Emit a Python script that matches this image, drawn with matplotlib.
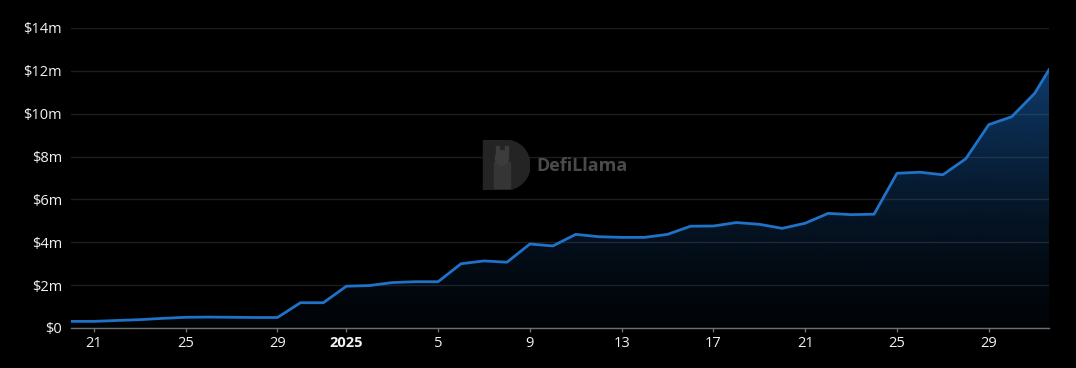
import matplotlib
matplotlib.use("Agg")
import matplotlib.pyplot as plt
import matplotlib.dates as mdates
from matplotlib.patches import Rectangle, Wedge, Ellipse
import numpy as np
import datetime as dt

# daily TVL values (USD millions), Dec 20 2024 -> Jan 31 2025, plus latest partial-day point
start = dt.datetime(2024, 12, 20)
tvl_m = [0.31, 0.31, 0.35, 0.39, 0.45, 0.50, 0.51, 0.50, 0.49, 0.49,
         1.18, 1.18, 1.95, 1.98, 2.12, 2.16, 2.16, 3.00, 3.13, 3.07,
         3.92, 3.83, 4.37, 4.26, 4.23, 4.23, 4.37, 4.75, 4.76, 4.92,
         4.84, 4.65, 4.89, 5.35, 5.29, 5.31, 7.22, 7.27, 7.15, 7.90,
         9.49, 9.86, 10.95]
latest_value = 12.05
latest_time = dt.datetime(2025, 1, 31, 15, 0)

dates = [start + dt.timedelta(days=i) for i in range(len(tvl_m))] + [latest_time]
values = np.array(tvl_m + [latest_value]) * 1e6

tick_dates = [dt.datetime(2024, 12, 21), dt.datetime(2024, 12, 25), dt.datetime(2024, 12, 29),
              dt.datetime(2025, 1, 1), dt.datetime(2025, 1, 5), dt.datetime(2025, 1, 9),
              dt.datetime(2025, 1, 13), dt.datetime(2025, 1, 17), dt.datetime(2025, 1, 21),
              dt.datetime(2025, 1, 25), dt.datetime(2025, 1, 29)]
tick_labels = ["21", "25", "29", "2025", "5", "9", "13", "17", "21", "25", "29"]
y_ticks = np.arange(0, 15, 2) * 1e6
y_labels = ["$0"] + [f"${v}m" for v in range(2, 15, 2)]

line_color = "#1f72c8"
bg = "#000000"

plt.rcParams["font.family"] = ["Open Sans", "DejaVu Sans"]

W, H = 1076, 368
fig = plt.figure(figsize=(W / 100, H / 100), dpi=100, facecolor=bg)
ax = fig.add_axes([71 / W, 40 / H, 978 / W, 300 / H], facecolor=bg)

x = mdates.date2num(dates)
ax.plot(x, values, color=line_color, lw=2, zorder=4, solid_joinstyle="round")

# gradient fill under the line
poly = ax.fill_between(x, values, 0, color="none", lw=0)
grad = np.linspace(0, 1, 256)
rgba = np.zeros((256, 1, 4))
rgba[..., 0] = 0x1a / 255
rgba[..., 1] = 0x6a / 255
rgba[..., 2] = 0xc0 / 255
rgba[:, 0, 3] = 0.04 + grad ** 1.4 * 0.52
img = ax.imshow(rgba, aspect="auto", origin="lower",
                extent=[x[0], x[-1], 0, values.max()], zorder=3)
img.set_clip_path(poly.get_paths()[0], transform=ax.transData)

ax.set_xlim(x[0], x[-1])
ax.set_ylim(0, 14e6)

ax.set_yticks(y_ticks)
ax.set_yticklabels(y_labels)
ax.set_xticks(mdates.date2num(tick_dates))
ax.set_xticklabels(tick_labels)
for lbl in ax.get_xticklabels():
    if lbl.get_text() == "2025":
        lbl.set_fontweight("bold")

ax.tick_params(axis="y", length=0, pad=6.5, labelsize=10.5, labelcolor="#f2f2f2")
ax.tick_params(axis="x", length=3, width=1, color="#6e6e6e", pad=2.5,
               labelsize=10.5, labelcolor="#f2f2f2")

ax.grid(axis="y", color="#1e1e1e", lw=1)
ax.set_axisbelow(True)
for side in ["top", "right", "left"]:
    ax.spines[side].set_visible(False)
ax.spines["bottom"].set_color("#6e6e6e")
ax.spines["bottom"].set_linewidth(1)

# watermark: D-shaped logo + name
logo_col = "#242424"
ov = fig.add_axes([480 / W, (H - 190) / H, 50 / W, 50 / H])
ov.set_xlim(0, 50)
ov.set_ylim(0, 50)
ov.axis("off")
ov.add_patch(Rectangle((3, 0), 23, 50, color=logo_col, zorder=1))
ov.add_patch(Wedge((25, 25), 25, -90, 90, color=logo_col, zorder=1))
# faint llama silhouette
ov.add_patch(Rectangle((14, 2), 16, 26, color="#353535", zorder=2))
ov.add_patch(Ellipse((22, 32), 13, 15, color="#3c3c3c", zorder=3))
ov.add_patch(Rectangle((16, 36), 3, 8, color="#3c3c3c", zorder=3))
ov.add_patch(Rectangle((25, 36), 3, 8, color="#3c3c3c", zorder=3))
fig.text(536 / W, (H - 166) / H, "DefiLlama", color="#4a4a4a",
         fontsize=13, fontweight="bold", va="center", ha="left", zorder=2)

fig.savefig("out.png", dpi=100, facecolor=bg)
